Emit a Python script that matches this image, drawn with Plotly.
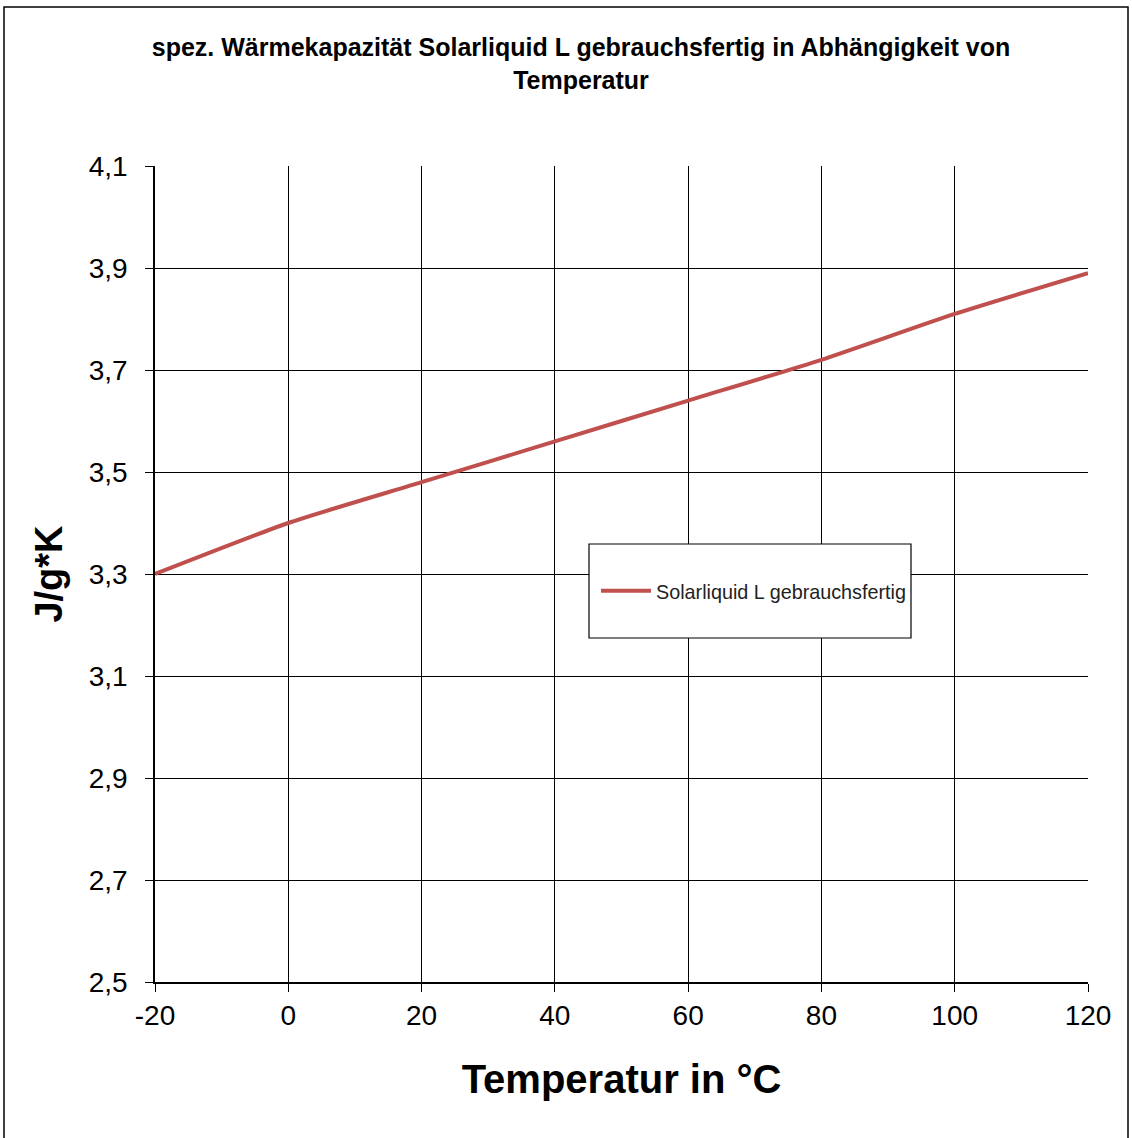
import plotly.graph_objects as go

# Data
temperature_c = [-20, 0, 20, 40, 60, 80, 100, 120]
heat_capacity = [3.30, 3.40, 3.48, 3.56, 3.64, 3.72, 3.81, 3.89]
series_name = "Solarliquid L gebrauchsfertig"
x_ticks = [-20, 0, 20, 40, 60, 80, 100, 120]
x_tick_labels = ["-20", "0", "20", "40", "60", "80", "100", "120"]
y_ticks = [2.5, 2.7, 2.9, 3.1, 3.3, 3.5, 3.7, 3.9, 4.1]
y_tick_labels = ["2,5", "2,7", "2,9", "3,1", "3,3", "3,5", "3,7", "3,9", "4,1"]

W, H = 1132, 1138
L, R, T, B = 155, 1088, 166, 982


def px_x(px):
    return (px - L) / (R - L)


def px_y(py):
    return (B - py) / (B - T)


FONT = "Liberation Sans, Arial, sans-serif"

fig = go.Figure()
fig.add_trace(go.Scatter(
    x=temperature_c, y=heat_capacity, mode="lines", name=series_name,
    line=dict(color="#C0504D", width=4, shape="spline", smoothing=0.6),
))

fig.update_layout(
    width=W, height=H,
    margin=dict(l=L, r=W - R, t=T, b=H - B, autoexpand=False),
    paper_bgcolor="white", plot_bgcolor="white",
    font=dict(family=FONT, color="black"),
    title=dict(
        text="<b>spez. Wärmekapazität Solarliquid L gebrauchsfertig in Abhängigkeit von<br>Temperatur</b>",
        x=581 / W, xref="container", xanchor="center",
        y=1 - 56 / H, yref="container", yanchor="middle",
        font=dict(size=25, family=FONT, color="black"),
    ),
    showlegend=True,
    legend=dict(
        x=px_x(596), y=px_y(591), xanchor="left", yanchor="middle",
        bgcolor="rgba(0,0,0,0)", borderwidth=0,
        font=dict(size=19.8, family=FONT, color="#222"),
        itemwidth=50,
    ),
    shapes=[
        dict(type="rect", xref="paper", yref="paper",
             x0=px_x(589), x1=px_x(911), y0=px_y(638), y1=px_y(544),
             line=dict(color="black", width=1.2), fillcolor="white", layer="above"),
        dict(type="rect", xref="paper", yref="paper",
             x0=px_x(4), x1=px_x(1128), y0=px_y(1150), y1=px_y(7),
             line=dict(color="black", width=1.5), fillcolor="rgba(0,0,0,0)", layer="above"),
    ],
)

fig.update_xaxes(
    range=[-20, 120], tickvals=x_ticks, ticktext=x_tick_labels,
    showgrid=True, gridcolor="black", gridwidth=1,
    showline=True, linecolor="black", linewidth=1.5, mirror=False,
    ticks="outside", ticklen=8, tickcolor="black", tickwidth=1,
    tickfont=dict(size=28, family=FONT, color="black"),
    zeroline=False, automargin=False,
    title=dict(text="<b>Temperatur in °C</b>", font=dict(size=40, family=FONT, color="black"), standoff=35),
)
fig.update_yaxes(
    range=[2.5, 4.1], tickvals=y_ticks, ticktext=y_tick_labels,
    showgrid=True, gridcolor="black", gridwidth=1,
    showline=True, linecolor="black", linewidth=1.5,
    ticks="outside", ticklen=8, tickcolor="black", tickwidth=1,
    ticklabelstandoff=12,
    tickfont=dict(size=28, family=FONT, color="black"),
    zeroline=False, automargin=False,
    title=dict(text="<b>J/g*K</b>", font=dict(size=38, family=FONT, color="black"), standoff=14),
)

fig.write_html("out.html", config={"displayModeBar": False},
               post_script="document.body.style.margin='0';")
